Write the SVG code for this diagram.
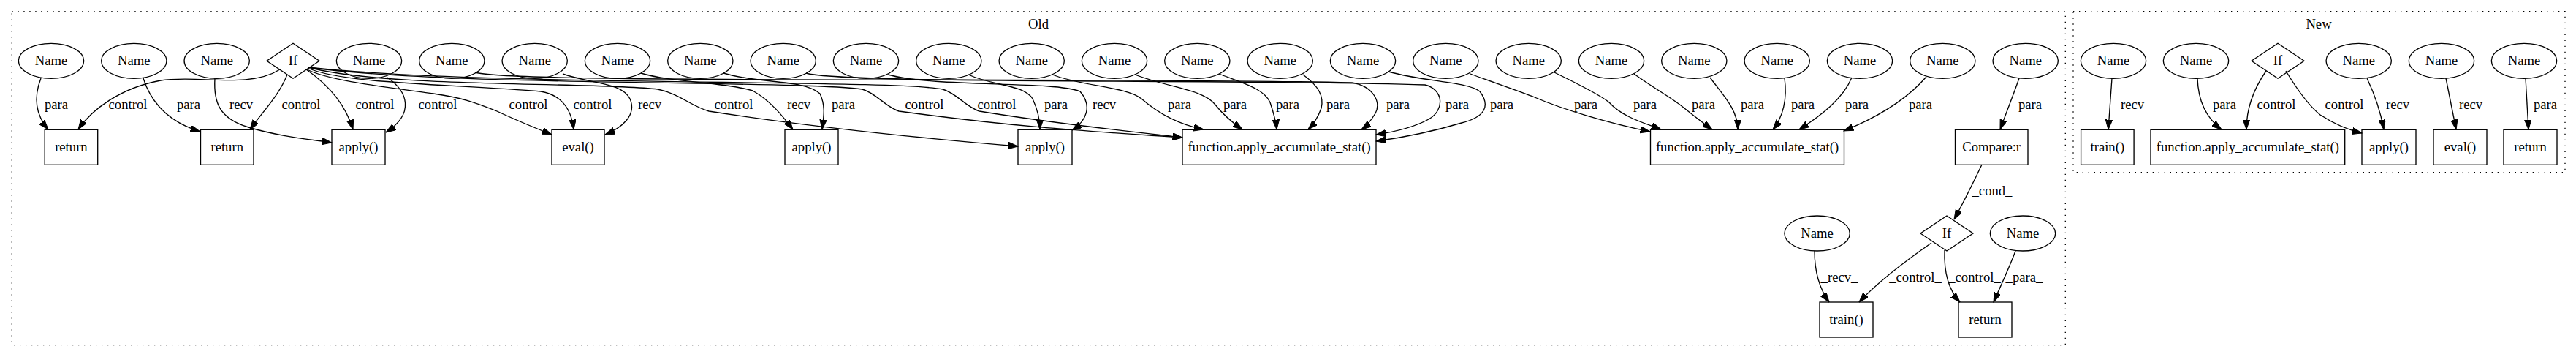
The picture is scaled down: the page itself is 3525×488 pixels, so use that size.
<svg xmlns="http://www.w3.org/2000/svg" width="3525" height="488" viewBox="0 0 3525 488">
<style>
.t{font-family:"Liberation Serif","Times New Roman",serif;font-size:18.67px;text-anchor:middle;fill:#000}
.s{fill:none;stroke:#000;stroke-width:1.33}
.c{fill:none;stroke:#000;stroke-width:1.33;stroke-dasharray:1.33,6.67}
.e{fill:none;stroke:#000;stroke-width:1.33;marker-end:url(#arr)}
</style>
<defs>
<marker id="arr" markerWidth="14" markerHeight="10" refX="13.33" refY="4.67" orient="auto" markerUnits="userSpaceOnUse"><path d="M0,0 L13.33,4.67 L0,9.33 z" fill="#000" stroke="#000" stroke-width="1"/></marker>
</defs>
<rect width="3525" height="488" fill="#fff"/>
<g id="cluster_old"><rect class="c" x="16.3" y="15.7" width="2810" height="456"/><text class="t" x="1421" y="39">Old</text></g>
<g id="cluster_new"><rect class="c" x="2837" y="15.7" width="673" height="220"/><text class="t" x="3173" y="39">New</text></g>

<g id="edges">
<path class="e" d="M56,107 C47,130 47,155 66,177"/><text class="t" x="77" y="149">_para_</text>
<path class="e" d="M383,95 C340,122 270,102 220,110 C165,120 125,150 107,177"/><text class="t" x="175" y="149">_control_</text>
<path class="e" d="M196,107 C205,135 225,165 274,180"/><text class="t" x="258" y="149">_para_</text>
<path class="e" d="M294,107 C292,140 300,162 340,174 C380,186 420,190 454,195"/><text class="t" x="330" y="149">_recv_</text>
<path class="e" d="M393,102 C382,130 360,152 342,177"/><text class="t" x="412" y="149">_control_</text>
<path class="e" d="M419,95 C448,115 472,140 483,177"/><text class="t" x="513" y="149">_control_</text>
<path class="e" d="M530,106 C558,125 568,155 528,181"/><text class="t" x="599" y="149">_control_</text>
<path class="e" d="M420,95 C450,110 520,118 593,128 C630,133 650,140 680,152 C710,166 735,176 755,184"/><text class="t" x="723" y="149">_control_</text>
<path class="e" d="M421,93 C470,115 620,115 740,125 C770,130 782,150 785,177"/><text class="t" x="811" y="149">_control_</text>
<path class="e" d="M770,101 C810,115 850,112 862,135 C872,158 850,175 828,184"/><text class="t" x="889" y="149">_recv_</text>
<path class="e" d="M422,92 C520,120 820,112 900,122 C930,128 945,145 970,152 C1100,172 1250,188 1393,200"/><text class="t" x="1004" y="149">_control_</text>
<path class="e" d="M877,100 C920,113 990,112 1030,124 C1055,138 1072,160 1085,177"/><text class="t" x="1093" y="149">_recv_</text>
<path class="e" d="M990,100 C1040,115 1100,108 1122,128 C1130,145 1127,160 1125,177"/><text class="t" x="1154" y="149">_para_</text>
<path class="e" d="M422,92 C600,118 1100,110 1180,122 C1200,128 1210,145 1230,152 C1400,175 1500,180 1618,188"/><text class="t" x="1265" y="149">_control_</text>
<path class="e" d="M422,92 C650,118 1220,108 1290,122 C1310,128 1320,145 1340,152 C1450,170 1550,180 1618,188"/><text class="t" x="1364" y="149">_control_</text>
<path class="e" d="M1325,102 C1360,118 1400,115 1413,135 C1420,150 1423,165 1423,177"/><text class="t" x="1445" y="149">_para_</text>
<path class="e" d="M1215,102 C1280,120 1440,110 1478,125 C1495,145 1487,165 1467,178"/><text class="t" x="1511" y="149">_recv_</text>
<path class="e" d="M1440,102 C1480,118 1540,118 1562,135 C1585,155 1612,170 1647,177"/><text class="t" x="1614" y="149">_para_</text>
<path class="e" d="M1553,102 C1600,120 1645,122 1662,142 C1676,160 1690,170 1700,177"/><text class="t" x="1690" y="149">_para_</text>
<path class="e" d="M1668,101 C1705,115 1730,122 1738,140 C1743,155 1746,165 1747,177"/><text class="t" x="1762" y="149">_para_</text>
<path class="e" d="M1783,102 C1805,118 1812,132 1808,148 C1803,162 1797,170 1790,177"/><text class="t" x="1831" y="149">_para_</text>
<path class="e" d="M650,99 C700,115 1500,105 1850,113 C1880,118 1890,140 1882,155 C1876,165 1870,172 1863,177"/><text class="t" x="1913" y="149">_para_</text>
<path class="e" d="M1103,100 C1150,115 1700,108 1950,116 C1975,122 1978,150 1955,163 C1935,174 1910,180 1883,184"/><text class="t" x="1994" y="149">_para_</text>
<path class="e" d="M1900,98 C1950,112 2010,112 2025,125 C2040,145 2032,160 2000,168 C1960,180 1920,188 1883,193"/><text class="t" x="2055" y="149">_para_</text>
<path class="e" d="M2012,101 C2050,115 2080,125 2100,133 C2140,150 2200,168 2258,180"/><text class="t" x="2170" y="149">_para_</text>
<path class="e" d="M2127,99 C2160,115 2190,130 2202,140 C2220,160 2250,168 2273,177"/><text class="t" x="2251" y="149">_para_</text>
<path class="e" d="M2236,101 C2265,122 2290,135 2305,148 C2320,160 2333,170 2343,177"/><text class="t" x="2331" y="149">_para_</text>
<path class="e" d="M2340,106 C2358,130 2378,150 2378,177"/><text class="t" x="2398" y="149">_para_</text>
<path class="e" d="M2442,107 C2446,135 2440,160 2426,177"/><text class="t" x="2467" y="149">_para_</text>
<path class="e" d="M2534,106 C2522,135 2492,158 2462,177"/><text class="t" x="2541" y="149">_para_</text>
<path class="e" d="M2636,105 C2610,135 2570,160 2523,179"/><text class="t" x="2628" y="149">_para_</text>
<path class="e" d="M2763,107 C2755,130 2745,155 2737,177"/><text class="t" x="2778" y="149">_para_</text>
<path class="e" d="M2712,225 C2700,250 2685,280 2674,300"/><text class="t" x="2726" y="267">_cond_</text>
<path class="e" d="M2483,343 C2483,370 2490,395 2503,413"/><text class="t" x="2517" y="385">_recv_</text>
<path class="e" d="M2643,332 C2610,355 2570,385 2544,413"/><text class="t" x="2621" y="385">_control_</text>
<path class="e" d="M2661,342 C2660,370 2665,395 2682,413"/><text class="t" x="2702" y="385">_control_</text>
<path class="e" d="M2758,343 C2750,365 2738,390 2728,413"/><text class="t" x="2770" y="385">_para_</text>
<path class="e" d="M2890,107 L2885,177"/><text class="t" x="2918" y="149">_recv_</text>
<path class="e" d="M3007,107 C3008,140 3020,162 3040,177"/><text class="t" x="3044" y="149">_para_</text>
<path class="e" d="M3101,97 C3085,120 3074,145 3074,177"/><text class="t" x="3115" y="149">_control_</text>
<path class="e" d="M3128,97 C3145,125 3160,145 3175,157 C3195,170 3215,178 3232,182"/><text class="t" x="3208" y="149">_control_</text>
<path class="e" d="M3239,107 C3250,130 3258,155 3262,177"/><text class="t" x="3281" y="149">_recv_</text>
<path class="e" d="M3347,107 L3361,177"/><text class="t" x="3381" y="149">_recv_</text>
<path class="e" d="M3456,107 L3460,177"/><text class="t" x="3483" y="149">_para_</text>
</g>

<g id="n1"><ellipse class="s" cx="70" cy="83.3" rx="44.7" ry="24"/><text class="t" x="70" y="89.3">Name</text></g>
<g id="n2"><ellipse class="s" cx="183.3" cy="83.3" rx="44.7" ry="24"/><text class="t" x="183.3" y="89.3">Name</text></g>
<g id="n3"><ellipse class="s" cx="296.7" cy="83.3" rx="44.7" ry="24"/><text class="t" x="296.7" y="89.3">Name</text></g>
<g id="if1"><polygon class="s" points="401,59.3 437,83.3 401,107.3 365,83.3"/><text class="t" x="401" y="89.3">If</text></g>
<g id="n4"><ellipse class="s" cx="505" cy="83.3" rx="44.7" ry="24"/><text class="t" x="505" y="89.3">Name</text></g>
<g id="n5"><ellipse class="s" cx="618.3" cy="83.3" rx="44.7" ry="24"/><text class="t" x="618.3" y="89.3">Name</text></g>
<g id="n6"><ellipse class="s" cx="731.7" cy="83.3" rx="44.7" ry="24"/><text class="t" x="731.7" y="89.3">Name</text></g>
<g id="n7"><ellipse class="s" cx="845" cy="83.3" rx="44.7" ry="24"/><text class="t" x="845" y="89.3">Name</text></g>
<g id="n8"><ellipse class="s" cx="958.3" cy="83.3" rx="44.7" ry="24"/><text class="t" x="958.3" y="89.3">Name</text></g>
<g id="n9"><ellipse class="s" cx="1071.7" cy="83.3" rx="44.7" ry="24"/><text class="t" x="1071.7" y="89.3">Name</text></g>
<g id="n10"><ellipse class="s" cx="1185" cy="83.3" rx="44.7" ry="24"/><text class="t" x="1185" y="89.3">Name</text></g>
<g id="n11"><ellipse class="s" cx="1298.3" cy="83.3" rx="44.7" ry="24"/><text class="t" x="1298.3" y="89.3">Name</text></g>
<g id="n12"><ellipse class="s" cx="1411.7" cy="83.3" rx="44.7" ry="24"/><text class="t" x="1411.7" y="89.3">Name</text></g>
<g id="n13"><ellipse class="s" cx="1525" cy="83.3" rx="44.7" ry="24"/><text class="t" x="1525" y="89.3">Name</text></g>
<g id="n14"><ellipse class="s" cx="1638.3" cy="83.3" rx="44.7" ry="24"/><text class="t" x="1638.3" y="89.3">Name</text></g>
<g id="n15"><ellipse class="s" cx="1751.7" cy="83.3" rx="44.7" ry="24"/><text class="t" x="1751.7" y="89.3">Name</text></g>
<g id="n16"><ellipse class="s" cx="1865" cy="83.3" rx="44.7" ry="24"/><text class="t" x="1865" y="89.3">Name</text></g>
<g id="n17"><ellipse class="s" cx="1978.3" cy="83.3" rx="44.7" ry="24"/><text class="t" x="1978.3" y="89.3">Name</text></g>
<g id="n18"><ellipse class="s" cx="2091.7" cy="83.3" rx="44.7" ry="24"/><text class="t" x="2091.7" y="89.3">Name</text></g>
<g id="n19"><ellipse class="s" cx="2205" cy="83.3" rx="44.7" ry="24"/><text class="t" x="2205" y="89.3">Name</text></g>
<g id="n20"><ellipse class="s" cx="2318.3" cy="83.3" rx="44.7" ry="24"/><text class="t" x="2318.3" y="89.3">Name</text></g>
<g id="n21"><ellipse class="s" cx="2431.7" cy="83.3" rx="44.7" ry="24"/><text class="t" x="2431.7" y="89.3">Name</text></g>
<g id="n22"><ellipse class="s" cx="2545" cy="83.3" rx="44.7" ry="24"/><text class="t" x="2545" y="89.3">Name</text></g>
<g id="n23"><ellipse class="s" cx="2658.3" cy="83.3" rx="44.7" ry="24"/><text class="t" x="2658.3" y="89.3">Name</text></g>
<g id="n24"><ellipse class="s" cx="2771.7" cy="83.3" rx="44.7" ry="24"/><text class="t" x="2771.7" y="89.3">Name</text></g>
<g id="ret1"><rect class="s" x="61.2" y="177.3" width="72.5" height="48"/><text class="t" x="97.4" y="207.3">return</text></g>
<g id="ret2"><rect class="s" x="274.5" y="177.3" width="72.5" height="48"/><text class="t" x="310.7" y="207.3">return</text></g>
<g id="apply1"><rect class="s" x="454" y="177.3" width="73" height="48"/><text class="t" x="490.5" y="207.3">apply()</text></g>
<g id="eval1"><rect class="s" x="755" y="177.3" width="72" height="48"/><text class="t" x="791" y="207.3">eval()</text></g>
<g id="apply2"><rect class="s" x="1074" y="177.3" width="73" height="48"/><text class="t" x="1110.5" y="207.3">apply()</text></g>
<g id="apply3"><rect class="s" x="1393" y="177.3" width="74" height="48"/><text class="t" x="1430" y="207.3">apply()</text></g>
<g id="func1"><rect class="s" x="1618" y="177.3" width="265" height="48"/><text class="t" x="1750.5" y="207.3">function.apply_accumulate_stat()</text></g>
<g id="func2"><rect class="s" x="2258.5" y="177.3" width="265" height="48"/><text class="t" x="2391" y="207.3">function.apply_accumulate_stat()</text></g>
<g id="compare"><rect class="s" x="2675.5" y="177.3" width="99.5" height="48"/><text class="t" x="2725.2" y="207.3">Compare:r</text></g>
<g id="n25"><ellipse class="s" cx="2486.6" cy="319" rx="44.7" ry="24"/><text class="t" x="2486.6" y="325">Name</text></g>
<g id="if2"><polygon class="s" points="2664,295 2700,319 2664,343 2628,319"/><text class="t" x="2664" y="325">If</text></g>
<g id="n26"><ellipse class="s" cx="2768" cy="319" rx="44.7" ry="24"/><text class="t" x="2768" y="325">Name</text></g>
<g id="train1"><rect class="s" x="2490" y="413" width="73" height="48"/><text class="t" x="2526.5" y="443">train()</text></g>
<g id="ret3"><rect class="s" x="2680" y="413" width="73" height="48"/><text class="t" x="2716.5" y="443">return</text></g>

<g id="na"><ellipse class="s" cx="2892" cy="83.3" rx="44.7" ry="24"/><text class="t" x="2892" y="89.3">Name</text></g>
<g id="nb"><ellipse class="s" cx="3005" cy="83.3" rx="44.7" ry="24"/><text class="t" x="3005" y="89.3">Name</text></g>
<g id="if3"><polygon class="s" points="3117,59.3 3153,83.3 3117,107.3 3081,83.3"/><text class="t" x="3117" y="89.3">If</text></g>
<g id="nc"><ellipse class="s" cx="3227.7" cy="83.3" rx="44.7" ry="24"/><text class="t" x="3227.7" y="89.3">Name</text></g>
<g id="nd"><ellipse class="s" cx="3341" cy="83.3" rx="44.7" ry="24"/><text class="t" x="3341" y="89.3">Name</text></g>
<g id="ne"><ellipse class="s" cx="3454" cy="83.3" rx="44.7" ry="24"/><text class="t" x="3454" y="89.3">Name</text></g>
<g id="train2"><rect class="s" x="2847.6" y="177.3" width="72.5" height="48"/><text class="t" x="2883.8" y="207.3">train()</text></g>
<g id="func3"><rect class="s" x="2943" y="177.3" width="265.7" height="48"/><text class="t" x="3075.8" y="207.3">function.apply_accumulate_stat()</text></g>
<g id="apply4"><rect class="s" x="3232" y="177.3" width="74" height="48"/><text class="t" x="3269" y="207.3">apply()</text></g>
<g id="eval2"><rect class="s" x="3330" y="177.3" width="73" height="48"/><text class="t" x="3366.5" y="207.3">eval()</text></g>
<g id="ret4"><rect class="s" x="3426" y="177.3" width="73" height="48"/><text class="t" x="3462.5" y="207.3">return</text></g>
</svg>
